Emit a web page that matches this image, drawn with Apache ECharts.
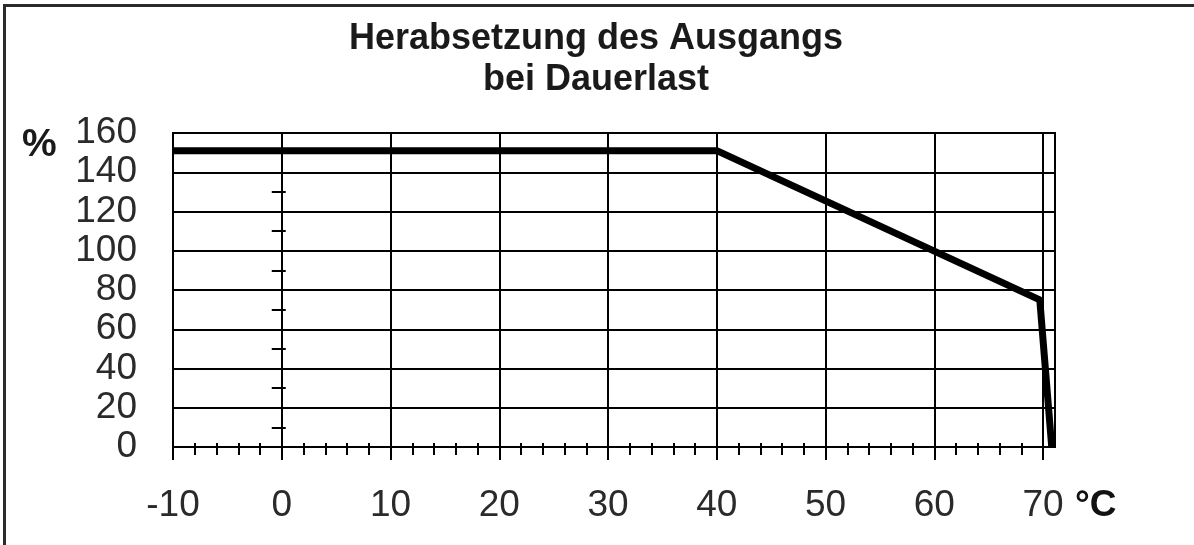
<!DOCTYPE html>
<html>
<head>
<meta charset="utf-8">
<script src="https://cdn.jsdelivr.net/npm/echarts@6/dist/echarts.min.js"></script>
<style>
html,body{margin:0;padding:0;background:#fff;}
#wrap{position:relative;width:1194px;height:545px;overflow:hidden;}
#frame{position:absolute;left:3px;top:4px;width:1200px;height:560px;border-top:3px solid #2b2b2b;border-left:3px solid #2b2b2b;box-sizing:border-box;}
#chart{position:absolute;left:0;top:0;width:1194px;height:545px;}
</style>
</head>
<body>
<div id="wrap"><div id="frame"></div><div id="chart"></div></div>
<script>
// Data
const temperatures = [-10, 40, 69.7, 70.8];
const outputPercent = [151, 151, 75, 0];
const xTickLabels = [-10, 0, 10, 20, 30, 40, 50, 60, 70];
const xMinorTicks = [-8, -6, -4, -2, 2, 4, 6, 8, 12, 14, 16, 18, 22, 24, 26, 28, 32, 34, 36, 38, 42, 44, 46, 48, 52, 54, 56, 58, 62, 64, 66, 68];
const yTickLabels = [0, 20, 40, 60, 80, 100, 120, 140, 160];
const yMidTicks = [10, 30, 50, 70, 90, 110, 130];
const titleLines = ['Herabsetzung des Ausgangs', 'bei Dauerlast'];

const FONT = '"Liberation Sans", Arial, sans-serif';
const X_MIN = -10, X_MAX = 71.1, Y_MIN = 0, Y_MAX = 160;
const chart = echarts.init(document.getElementById('chart'), null, {renderer: 'canvas'});

const baseX = {
  type: 'value', min: X_MIN, max: X_MAX, interval: 10, position: 'bottom', gridIndex: 0
};
const baseY = {
  type: 'value', min: Y_MIN, max: Y_MAX, interval: 20, position: 'left', gridIndex: 0
};

chart.setOption({
  animation: false,
  backgroundColor: 'transparent',
  title: {
    text: titleLines.join('\n'),
    left: 591, top: 14, textAlign: 'center',
    textStyle: {fontFamily: FONT, fontSize: 36, fontWeight: 'bold', color: '#1a1a1a', lineHeight: 41}
  },
  grid: {left: 173, top: 133, width: 882, height: 314, show: true, borderColor: '#000', borderWidth: 2, backgroundColor: 'transparent'},
  xAxis: [
    Object.assign({}, baseX, {
      axisLine: {show: true, lineStyle: {color: '#000', width: 2}},
      axisTick: {show: true, length: 13, lineStyle: {color: '#000', width: 2}, customValues: xTickLabels},
      axisLabel: {show: true, customValues: xTickLabels, margin: 40, fontFamily: FONT, fontSize: 37, color: '#2a2a2a'},
      splitLine: {show: true, lineStyle: {color: '#000', width: 2}}
    }),
    Object.assign({}, baseX, {
      axisLine: {show: false},
      axisTick: {show: true, length: 8, lineStyle: {color: '#000', width: 2}, customValues: xMinorTicks},
      axisLabel: {show: false},
      splitLine: {show: false}
    }),
    Object.assign({}, baseX, {
      axisLine: {show: false},
      axisTick: {show: true, inside: true, length: 4, lineStyle: {color: '#000', width: 2}, customValues: xMinorTicks},
      axisLabel: {show: false},
      splitLine: {show: false}
    })
  ],
  yAxis: [
    Object.assign({}, baseY, {
      axisLine: {show: true, lineStyle: {color: '#000', width: 2}},
      axisTick: {show: false},
      axisLabel: {show: true, margin: 36, fontFamily: FONT, fontSize: 37, color: '#2a2a2a'},
      splitLine: {show: true, lineStyle: {color: '#000', width: 2}}
    }),
    Object.assign({}, baseY, {
      offset: -107,
      axisLine: {show: false},
      axisTick: {show: true, length: 10, lineStyle: {color: '#000', width: 2}, customValues: yMidTicks},
      axisLabel: {show: false},
      splitLine: {show: false}
    }),
    Object.assign({}, baseY, {
      offset: -107,
      axisLine: {show: false},
      axisTick: {show: true, inside: true, length: 4, lineStyle: {color: '#000', width: 2}, customValues: yMidTicks},
      axisLabel: {show: false},
      splitLine: {show: false}
    })
  ],
  graphic: [
    {type: 'text', x: 22, y: 145, style: {text: '%', fontFamily: FONT, fontSize: 39, fontWeight: 'bold', fill: '#1a1a1a', verticalAlign: 'middle'}},
    {type: 'text', x: 1075, y: 506, style: {text: '°C', fontFamily: FONT, fontSize: 37, fontWeight: 'bold', fill: '#111', verticalAlign: 'middle'}}
  ],
  series: [{
    type: 'line',
    data: temperatures.map((t, i) => [t, outputPercent[i]]),
    showSymbol: false,
    symbol: 'none',
    lineStyle: {color: '#000', width: 7, join: 'round', cap: 'butt'},
    clip: false
  }]
});
</script>
</body>
</html>
